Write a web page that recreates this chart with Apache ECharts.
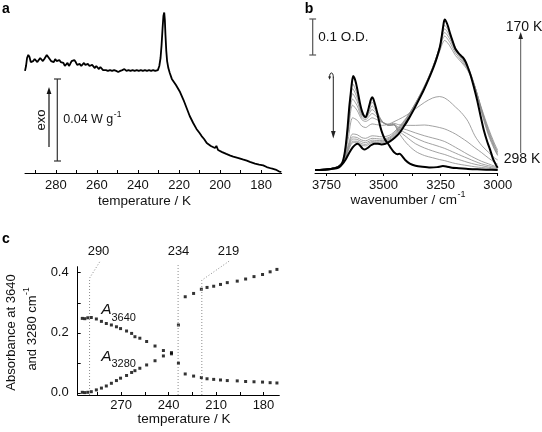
<!DOCTYPE html>
<html><head><meta charset="utf-8">
<script src="https://cdn.jsdelivr.net/npm/echarts@6/dist/echarts.min.js"></script>
<style>html,body{margin:0;padding:0;background:#fff}#c{width:542px;height:432px}</style>
</head><body><div id="c"></div><script>
// ---------- Panel a: DSC trace (temperature K, heat flow arbitrary mW/g offset) ----------
const dscCurve = [
[295.0,49.8],[294.5,52.2],[294.0,56.1],[293.4,57.6],[292.8,56.6],[292.2,54.1],[291.6,53.2],[291.0,54.6],[290.3,55.6],[289.6,55.1],
[289.0,54.1],[288.3,55.1],[287.6,56.1],[287.0,55.6],[286.3,54.6],[285.6,55.6],[285.0,56.6],[284.4,57.6],[283.7,57.1],[283.0,55.6],
[282.3,54.6],[281.6,55.1],[281.0,54.1],[280.3,55.6],[279.6,54.6],[279.0,53.7],[278.3,55.1],[277.6,54.1],[277.0,53.2],[276.3,53.7],
[275.6,52.2],[275.0,52.7],[274.3,53.7],[273.6,52.2],[273.0,53.2],[272.3,54.6],[271.6,53.7],[271.0,55.1],[270.3,54.1],[269.6,52.7],
[269.0,52.2],[268.3,53.2],[267.6,52.2],[267.0,52.7],[266.3,53.7],[265.6,52.7],[265.0,52.2],[264.3,53.2],[263.6,52.2],[263.0,51.7],
[262.3,52.7],[261.6,52.2],[261.0,51.2],[260.3,52.2],[259.6,51.7],[259.0,50.7],[258.3,51.7],[257.6,51.2],[257.0,50.2],[256.3,50.7],
[255.6,50.2],[254.6,49.8],[253.6,50.2],[252.6,49.8],[251.6,50.2],[250.6,49.8],[249.6,49.3],[248.6,49.8],[247.6,50.2],[246.6,50.7],
[245.6,49.8],[244.6,50.2],[243.6,49.8],[242.6,50.2],[241.6,49.8],[240.6,50.2],[239.6,49.8],[238.6,50.2],[237.6,49.8],[236.6,50.2],
[235.6,49.8],[234.6,50.2],[233.6,49.8],[232.6,50.2],[231.6,49.8],[231.0,49.8],[230.3,50.2],[229.6,52.2],[229.0,56.1],[228.5,62.4],
[228.0,70.7],[227.6,76.6],[227.2,78.3],[226.9,74.6],[226.6,67.3],[226.2,59.5],[225.8,54.6],[225.2,51.2],[224.5,48.8],[223.5,45.9],
[222.8,45.0],[221.5,42.9],[219.5,39.5],[217.8,35.6],[216.3,31.7],[214.8,27.8],[213.1,24.4],[211.5,21.5],[210.0,19.5],[209.5,20.0],
[209.0,18.0],[207.8,16.6],[206.5,14.6],[204.5,13.2],[202.5,12.2],[201.8,13.2],[201.0,11.2],[199.0,10.2],[197.0,9.3],[195.0,8.5],
[193.6,8.0],[191.0,7.3],[189.0,6.6],[187.0,6.0],[185.5,5.4],[183.0,4.6],[181.0,4.1],[179.0,3.7],[177.3,2.9],[175.0,2.2],
[173.0,1.7],[171.2,0.7],[170.2,0.5]
];
const tickLabelsA = [280, 260, 240, 220, 200, 180];
const tickMarksA = [290, 280, 270, 260, 250, 240, 230, 220, 210, 200, 190, 180];

// ---------- Panel b: IR spectra (wavenumber, O.D.) ----------
const spec298 = [
[3800,0.000],[3760,0.001],[3730,0.003],[3705,0.005],[3690,0.010],[3681,0.019],[3672,0.040],[3665,0.070],[3657,0.120],[3650,0.175],
[3645,0.204],[3638,0.245],[3633,0.261],[3627,0.255],[3620,0.240],[3612,0.215],[3603,0.185],[3594,0.163],[3585,0.150],[3578,0.147],
[3570,0.160],[3562,0.180],[3555,0.196],[3550,0.202],[3545,0.198],[3537,0.182],[3528,0.160],[3514,0.120],[3503,0.098],[3492,0.083],
[3480,0.073],[3470,0.063],[3455,0.050],[3440,0.044],[3430,0.045],[3420,0.040],[3405,0.028],[3385,0.018],[3360,0.012],[3330,0.009],
[3295,0.007],[3265,0.008],[3240,0.011],[3225,0.010],[3200,0.006],[3170,0.005],[3130,0.003],[3090,0.002],[3050,0.001],[3000,0.000]
];
const spec170 = [
[3800,0.000],[3760,0.001],[3730,0.003],[3700,0.008],[3681,0.016],[3665,0.030],[3650,0.048],[3635,0.063],[3622,0.071],[3613,0.073],
[3603,0.068],[3592,0.060],[3582,0.057],[3570,0.061],[3557,0.068],[3540,0.073],[3525,0.073],[3510,0.071],[3492,0.073],[3470,0.080],
[3450,0.090],[3430,0.103],[3412,0.120],[3390,0.142],[3368,0.167],[3346,0.194],[3324,0.222],[3302,0.253],[3280,0.287],[3265,0.315],
[3252,0.345],[3243,0.380],[3236,0.410],[3232,0.418],[3226,0.413],[3218,0.400],[3208,0.378],[3196,0.355],[3185,0.336],[3171,0.324],
[3160,0.317],[3150,0.311],[3140,0.300],[3130,0.284],[3118,0.262],[3105,0.232],[3090,0.194],[3075,0.150],[3061,0.111],[3045,0.077],
[3032,0.054],[3020,0.030],[3010,0.017],[3000,0.006]
];
const wnGrid = [3800,3740,3700,3675,3655,3635,3615,3595,3578,3563,3550,3530,3505,3475,3455,3435,3400,3360,3320,3285,3255,3232,3210,3185,3160,3130,3100,3070,3040,3015,3000];
const grayW1 = [0.001,0.003,0.008,0.030,0.130,0.240,0.210,0.160,0.148,0.170,0.188,0.165,0.135,0.124,0.126,0.105,0.075,0.052,0.040,0.034,0.029,0.026,0.022,0.018,0.015,0.012,0.009,0.007,0.005,0.003,0.002];
const grayW2 = [0.001,0.003,0.009,0.030,0.124,0.226,0.200,0.156,0.146,0.163,0.178,0.160,0.134,0.124,0.125,0.110,0.092,0.073,0.061,0.053,0.047,0.043,0.038,0.032,0.027,0.021,0.016,0.012,0.008,0.005,0.004];
const grayW3 = [0.001,0.003,0.009,0.030,0.118,0.212,0.190,0.152,0.144,0.157,0.168,0.155,0.134,0.124,0.126,0.114,0.102,0.089,0.078,0.071,0.065,0.060,0.054,0.047,0.040,0.032,0.024,0.017,0.012,0.008,0.006];
const grayW4 = [0.001,0.003,0.010,0.030,0.112,0.197,0.178,0.146,0.140,0.149,0.157,0.148,0.133,0.125,0.127,0.119,0.112,0.103,0.095,0.089,0.084,0.079,0.072,0.063,0.054,0.043,0.033,0.024,0.017,0.011,0.009];
const grayW5 = [0.001,0.003,0.010,0.030,0.104,0.180,0.165,0.140,0.135,0.140,0.145,0.140,0.132,0.127,0.130,0.126,0.124,0.124,0.125,0.122,0.118,0.114,0.108,0.100,0.090,0.077,0.062,0.048,0.033,0.022,0.016];
const grayMid = [0.001,0.003,0.010,0.028,0.085,0.145,0.138,0.122,0.118,0.124,0.128,0.126,0.124,0.128,0.134,0.140,0.152,0.170,0.188,0.200,0.204,0.200,0.190,0.175,0.160,0.135,0.095,0.068,0.049,0.034,0.028];
const grayC1 = [0.001,0.003,0.010,0.026,0.068,0.100,0.098,0.090,0.088,0.092,0.095,0.094,0.092,0.096,0.105,0.118,0.145,0.185,0.232,0.280,0.328,0.360,0.345,0.318,0.300,0.275,0.230,0.170,0.115,0.075,0.055];
const grayC2 = [0.001,0.003,0.010,0.025,0.063,0.092,0.090,0.083,0.081,0.085,0.088,0.087,0.086,0.091,0.101,0.115,0.143,0.186,0.234,0.283,0.334,0.372,0.355,0.325,0.305,0.278,0.232,0.168,0.110,0.070,0.050];
const grayC3 = [0.001,0.003,0.009,0.024,0.059,0.086,0.085,0.078,0.076,0.080,0.083,0.082,0.082,0.088,0.098,0.112,0.141,0.185,0.234,0.285,0.338,0.382,0.364,0.331,0.310,0.281,0.232,0.165,0.105,0.066,0.046];
const grayC4 = [0.001,0.003,0.009,0.022,0.055,0.080,0.080,0.073,0.071,0.076,0.079,0.078,0.079,0.085,0.095,0.109,0.138,0.182,0.232,0.285,0.340,0.392,0.372,0.336,0.314,0.284,0.232,0.162,0.100,0.062,0.042];
const grayC5 = [0.001,0.003,0.009,0.021,0.052,0.076,0.077,0.069,0.067,0.072,0.076,0.075,0.076,0.082,0.092,0.106,0.135,0.178,0.228,0.283,0.340,0.402,0.380,0.340,0.317,0.287,0.232,0.158,0.096,0.058,0.040];
const graySpectra = [grayW1, grayW2, grayW3, grayW4, grayW5, grayMid, grayC1, grayC2, grayC3, grayC4, grayC5];
const tickLabelsB = [3750, 3500, 3250, 3000];
const tickMarksB = [3750, 3625, 3500, 3375, 3250, 3125, 3000];

// ---------- Panel c: absorbance vs temperature ----------
const tempC = [294.6,293.0,291.1,288.9,285.7,282.5,279.4,276.2,273.0,270.4,266.6,263.4,261.3,258.2,253.9,248.6,243.3,238.2,233.8,229.5,224.2,219.3,215.7,211.5,207.2,202.9,196.6,191.3,186.0,180.6,175.8,171.5];
const a3640 = [0.248,0.247,0.250,0.251,0.246,0.238,0.231,0.226,0.220,0.214,0.206,0.198,0.187,0.182,0.171,0.156,0.141,0.130,0.099,0.063,0.056,0.051,0.047,0.045,0.043,0.041,0.040,0.038,0.037,0.036,0.034,0.033];
const a3280 = [0.002,0.001,0.002,0.004,0.010,0.016,0.023,0.032,0.041,0.049,0.058,0.068,0.074,0.082,0.093,0.107,0.123,0.134,0.226,0.320,0.331,0.345,0.351,0.355,0.361,0.367,0.372,0.379,0.387,0.394,0.403,0.411];
const markerTemps = [290, 234, 219];
const tickLabelsCx = [270, 240, 210, 180];
const tickMarksCx = [285, 270, 255, 240, 225, 210, 195, 180];
const tickLabelsCy = [0, 0.2, 0.4];
const tickMarksCy = [0, 0.1, 0.2, 0.3, 0.4];

// ---------- helpers ----------
const FONTQ = '"Liberation Sans", Arial, sans-serif';
const mctx = document.createElement('canvas').getContext('2d');
function tw(t, size) { mctx.font = size + 'px ' + FONTQ; return mctx.measureText(t).width; }
function txt(x, y, s, size, align, extra) {
  return Object.assign({type: 'text', x: x, y: y, silent: true,
    style: {text: s, font: size + 'px ' + FONTQ, fill: '#111', align: align || 'center', verticalAlign: 'middle'}}, extra || {});
}
function supPair(x0, cy, base, sup, size, supSize) {
  const w1 = tw(base, size);
  return [txt(x0, cy, base, size, 'left'), txt(x0 + w1 + 0.5, cy - 5, sup, supSize, 'left')];
}
function centeredSup(cx, cy, base, sup, size, supSize) {
  const w = tw(base, size) + tw(sup, supSize) + 0.5;
  return supPair(cx - w / 2, cy, base, sup, size, supSize);
}
function ln(x1, y1, x2, y2, color, w) {
  return {type: 'line', silent: true, shape: {x1, y1, x2, y2}, style: {stroke: color || '#111', lineWidth: w || 1}};
}
function head(points, color) {
  return {type: 'polygon', silent: true, shape: {points}, style: {fill: color || '#111'}};
}

const axisText = {fontSize: 13, color: '#111', fontFamily: FONTQ, formatter: v => String(v)};

const series = [];
series.push({type: 'line', xAxisIndex: 0, yAxisIndex: 0, data: dscCurve, symbol: 'none',
  lineStyle: {color: '#000', width: 1.8}, silent: true});
graySpectra.forEach(g => {
  series.push({type: 'line', xAxisIndex: 1, yAxisIndex: 1, data: wnGrid.map((w, i) => [w, g[i]]),
    symbol: 'none', smooth: 0.3, lineStyle: {color: '#8a8a8a', width: 0.8}, silent: true});
});
[spec298, spec170].forEach(s => {
  series.push({type: 'line', xAxisIndex: 1, yAxisIndex: 1, data: s, symbol: 'none', smooth: 0.2,
    lineStyle: {color: '#000', width: 2}, silent: true});
});
// dotted marker lines in panel c
const markerLines = [
  [[markerTemps[0], -0.007], [markerTemps[0], 0.382], [283.6, 0.436]],
  [[markerTemps[1], -0.007], [markerTemps[1], 0.431]],
  [[markerTemps[2], -0.007], [markerTemps[2], 0.375], [200.8, 0.442]]
];
markerLines.forEach(d => {
  series.push({type: 'line', xAxisIndex: 2, yAxisIndex: 2, data: d, symbol: 'none', clip: false,
    lineStyle: {color: '#8c8c8c', width: 1, type: [1, 2]}, silent: true});
});
[a3640, a3280].forEach(arr => {
  series.push({type: 'scatter', xAxisIndex: 2, yAxisIndex: 2, data: tempC.map((t, i) => [t, arr[i]]),
    symbol: 'rect', symbolSize: 3, itemStyle: {color: '#000'}, silent: true});
});

const boldLetter = (x, y, s) => ({type: 'text', x: x, y: y, silent: true,
  style: {text: s, font: 'bold 14px ' + FONTQ, fill: '#000', align: 'center', verticalAlign: 'middle'}});
const italicA = (x, y) => ({type: 'text', x: x, y: y, silent: true,
  style: {text: 'A', font: 'italic 15.5px ' + FONTQ, fill: '#111', align: 'center', verticalAlign: 'middle'}});

const graphic = [
  boldLetter(6, 9, 'a'), boldLetter(309, 9, 'b'), boldLetter(6, 239, 'c'),
  // panel a annotations
  txt(144.5, 201, 'temperature / K', 13.5),
  ln(57.3, 79, 57.3, 161, '#333', 1.2), ln(54, 79, 61, 79, '#333', 1.2), ln(54, 161, 61, 161, '#333', 1.2),
  ...supPair(63.3, 119.5, '0.04 W g', '-1', 12.5, 8.5),
  ln(49, 147, 49, 93, '#111', 1.2), head([[46.6, 94], [51.4, 94], [49, 87]]),
  {type: 'group', x: 41.5, y: 120, rotation: Math.PI / 2, silent: true, children: [txt(0, 0, 'exo', 13)]},
  // panel b annotations
  ...centeredSup(408, 200, 'wavenumber / cm', '-1', 13.5, 9),
  ln(312.7, 19, 312.7, 55, '#555', 1.2), ln(309.3, 19, 316.1, 19, '#555', 1.2), ln(309.3, 55, 316.1, 55, '#555', 1.2),
  txt(318.3, 37, '0.1 O.D.', 13.5, 'left'),
  ln(333.3, 77, 333.3, 132, '#222', 1), head([[331, 131], [335.6, 131], [333.3, 138.5]], '#222'),
  {type: 'bezierCurve', silent: true, shape: {x1: 333.3, y1: 77.5, x2: 329.6, y2: 77, cpx1: 333.5, cpy1: 71.5, cpx2: 329.5, cpy2: 71.5},
    style: {stroke: '#222', lineWidth: 1, fill: null}},
  head([[328.1, 76.5], [331.1, 76.5], [329.6, 79.8]], '#222'),
  ln(520.7, 153, 520.7, 38, '#555', 1), head([[518.4, 39], [523, 39], [520.7, 32]], '#222'),
  txt(524, 27, '170 K', 14), txt(522, 159, '298 K', 14),
  // panel c annotations
  txt(184, 419, 'temperature / K', 13.5),
  txt(98.5, 251.5, '290', 13), txt(178.5, 251.5, '234', 13), txt(228.5, 251.5, '219', 13),
  italicA(106.5, 310), txt(111.5, 317.5, '3640', 11, 'left'),
  italicA(106.5, 356.5), txt(111.5, 364, '3280', 11, 'left'),
  {type: 'group', x: 11, y: 332.5, rotation: Math.PI / 2, silent: true, children: [txt(0, 0, 'Absorbance at 3640', 13)]},
  (function () {
    const w1 = tw('and 3280 cm', 13), w2 = tw('-1', 8.5), tot = w1 + w2 + 0.5;
    return {type: 'group', x: 32, y: 329, rotation: Math.PI / 2, silent: true, children: [
      txt(-tot / 2, 0, 'and 3280 cm', 13, 'left'), txt(-tot / 2 + w1 + 0.5, -5, '-1', 8.5, 'left')]};
  })()
];

const option = {
  animation: false,
  backgroundColor: '#fff',
  grid: [
    {left: 25, top: 9, width: 256.7, height: 164, outerBoundsMode: 'none'},
    {left: 315, top: 8, width: 182.7, height: 165, outerBoundsMode: 'none'},
    {left: 77.7, top: 266.7, width: 201.6, height: 128.3, outerBoundsMode: 'none'}
  ],
  xAxis: [
    {gridIndex: 0, type: 'value', min: 170, max: 295, inverse: true,
      axisLine: {show: true, onZero: false, lineStyle: {color: '#000', width: 1}},
      axisTick: {show: true, inside: true, length: 3, customValues: tickMarksA, lineStyle: {color: '#000'}},
      axisLabel: Object.assign({customValues: tickLabelsA, margin: 6}, axisText), splitLine: {show: false}},
    {gridIndex: 1, type: 'value', min: 3000, max: 3800, inverse: true,
      axisLine: {show: true, onZero: false, lineStyle: {color: '#000', width: 1}},
      axisTick: {show: true, inside: false, length: 3, customValues: tickMarksB, lineStyle: {color: '#000'}},
      axisLabel: Object.assign({customValues: tickLabelsB, margin: 6}, axisText), splitLine: {show: false}},
    {gridIndex: 2, type: 'value', min: 170, max: 297.5, inverse: true,
      axisLine: {show: true, onZero: false, lineStyle: {color: '#000', width: 1}},
      axisTick: {show: true, inside: true, length: 3, customValues: tickMarksCx, lineStyle: {color: '#000'}},
      axisLabel: Object.assign({customValues: tickLabelsCx, margin: 4}, axisText), splitLine: {show: false}}
  ],
  yAxis: [
    {gridIndex: 0, type: 'value', min: 0, max: 80, show: false},
    {gridIndex: 1, type: 'value', min: -0.00833, max: 0.45, show: false},
    {gridIndex: 2, type: 'value', min: -0.007, max: 0.42,
      axisLine: {show: true, onZero: false, lineStyle: {color: '#000', width: 1}},
      axisTick: {show: true, inside: true, length: 3, customValues: tickMarksCy, lineStyle: {color: '#000'}},
      axisLabel: Object.assign({}, axisText, {customValues: tickLabelsCy, margin: 9, formatter: v => Number(v).toFixed(1)}),
      splitLine: {show: false}}
  ],
  series: series,
  graphic: graphic
};
const chart = echarts.init(document.getElementById('c'), null, {renderer: 'canvas'});
chart.setOption(option);
</script></body></html>
